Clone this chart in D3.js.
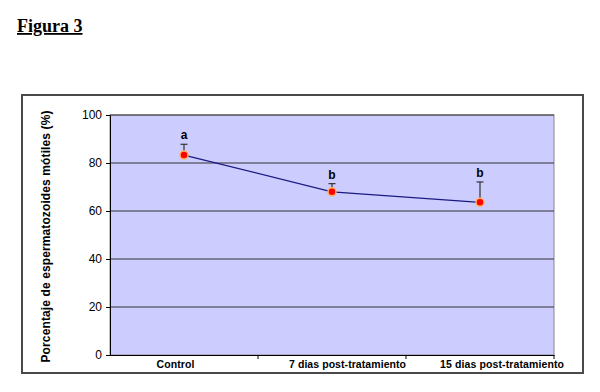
<!DOCTYPE html>
<html><head><meta charset="utf-8">
<script src="https://cdn.jsdelivr.net/npm/d3@7"></script>
<style>body{margin:0;background:#fff}</style>
</head><body>
<svg id="c" width="600" height="392"></svg>
<script>
const categories = ["Control", "7 dias post-tratamiento", "15 dias post-tratamiento"];
const values = [83.3, 68.0, 63.6];
const errorsUp = [4.5, 3.4, 8.5];
const letters = ["a", "b", "b"];
const yTicks = [0, 20, 40, 60, 80, 100];

const svg = d3.select("#c");
// title
svg.append("text").attr("x", 17).attr("y", 32)
  .attr("font-family", "Liberation Serif, Times New Roman, serif")
  .attr("font-weight", "bold").attr("font-size", 18)
  .attr("text-decoration", "underline").text("Figura 3");

// outer frame
svg.append("rect").attr("x", 22).attr("y", 95).attr("width", 561).attr("height", 278)
  .attr("fill", "#fff").attr("stroke", "#4a4a4a").attr("stroke-width", 2);

const L = 110, R = 554, T = 115, B = 355;
const x = d3.scaleBand().domain(categories).range([L, R]);
const y = d3.scaleLinear().domain([0, 100]).range([B, T]);

svg.append("rect").attr("x", L).attr("y", T).attr("width", R - L).attr("height", B - T)
  .attr("fill", "#CCCCFF").attr("stroke", "#888").attr("stroke-width", 1);

// gridlines
svg.append("g").selectAll("line").data(yTicks.filter(d => d > 0)).join("line")
  .attr("x1", L).attr("x2", R).attr("y1", d => y(d)).attr("y2", d => y(d))
  .attr("stroke", "#333").attr("stroke-width", 1);

// y axis
const ya = svg.append("g").attr("transform", `translate(${L},0)`)
  .call(d3.axisLeft(y).tickValues(yTicks).tickSize(4).tickPadding(4));
ya.select(".domain").attr("stroke", "#000");
ya.selectAll("text").attr("font-family", "Liberation Sans, Arial, sans-serif").attr("font-size", 12).attr("fill", "#000");

// x axis
const xa = svg.append("g").attr("transform", `translate(0,${B})`)
  .call(d3.axisBottom(x).tickSize(0).tickPadding(6));
xa.select(".domain").attr("stroke", "#000");
const labelShift = [-8.5, 15.5, 22];
const labelLen = [38, 117, 124];
xa.selectAll("text").attr("font-family", "Liberation Sans, Arial, sans-serif").attr("font-size", 10.5)
  .attr("font-weight", "bold").attr("fill", "#000")
  .attr("dx", (d, i) => labelShift[i])
  .attr("textLength", (d, i) => labelLen[i]).attr("lengthAdjust", "spacing");
// band boundary ticks
svg.append("g").selectAll("line").data(categories).join("line")
  .attr("x1", d => x(d) + x.bandwidth()).attr("x2", d => x(d) + x.bandwidth())
  .attr("y1", B).attr("y2", B + 4).attr("stroke", "#000");

// y label
svg.append("text").attr("transform", `translate(49.5,${236.5}) rotate(-90)`)
  .attr("text-anchor", "middle").attr("font-family", "Liberation Sans, Arial, sans-serif")
  .attr("font-weight", "bold").attr("font-size", 12)
  .attr("textLength", 252).attr("lengthAdjust", "spacing")
  .text("Porcentaje de espermatozoides mótiles (%)");

const cx = d => x(d) + x.bandwidth() / 2;

// error bars
const eb = svg.append("g");
categories.forEach((c, i) => {
  eb.append("line").attr("x1", cx(c)).attr("x2", cx(c)).attr("y1", y(values[i])).attr("y2", y(values[i] + errorsUp[i]))
    .attr("stroke", "#333").attr("stroke-width", 1.2);
  eb.append("line").attr("x1", cx(c) - 3.5).attr("x2", cx(c) + 3.5).attr("y1", y(values[i] + errorsUp[i])).attr("y2", y(values[i] + errorsUp[i]))
    .attr("stroke", "#333").attr("stroke-width", 1.2);
});

// line
svg.append("path").datum(values)
  .attr("d", d3.line().x((d, i) => cx(categories[i])).y(d => y(d)))
  .attr("fill", "none").attr("stroke", "#1a1a80").attr("stroke-width", 1.3);

// markers
svg.append("g").selectAll("circle").data(values).join("circle")
  .attr("cx", (d, i) => cx(categories[i])).attr("cy", d => y(d)).attr("r", 4)
  .attr("fill", "#FF0000").attr("stroke", "#FFB060").attr("stroke-width", 1.5);

// letters
svg.append("g").selectAll("text").data(letters).join("text")
  .attr("x", (d, i) => cx(categories[i])).attr("y", (d, i) => y(values[i] + errorsUp[i]) - 5)
  .attr("text-anchor", "middle").attr("font-family", "Liberation Sans, Arial, sans-serif")
  .attr("font-weight", "bold").attr("font-size", 12).text(d => d);
</script>
</body></html>
